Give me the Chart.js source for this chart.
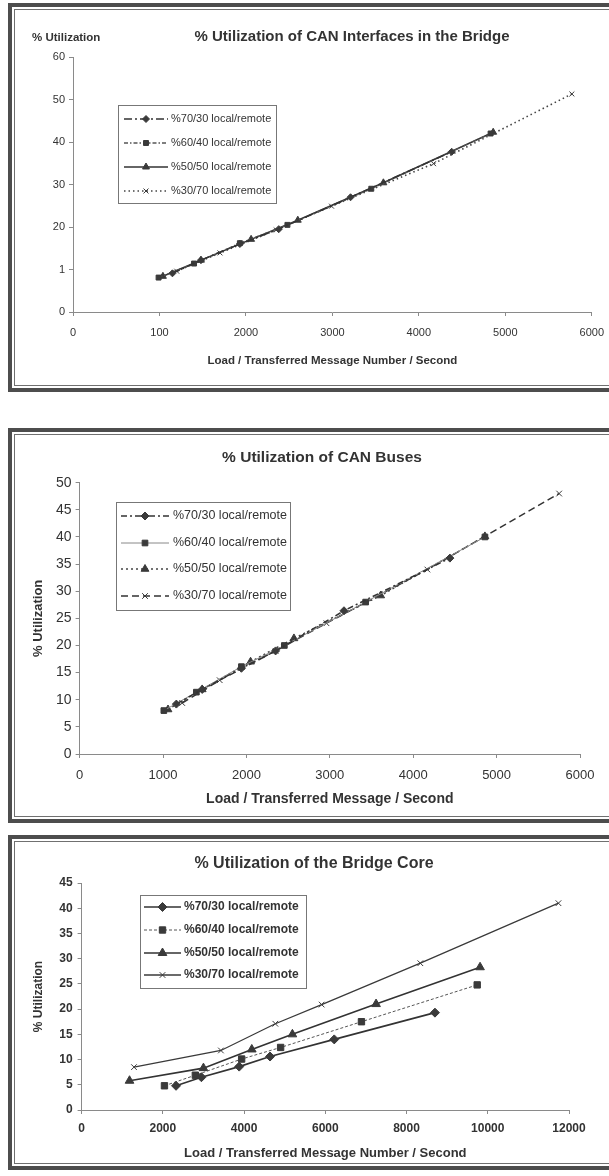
<!DOCTYPE html>
<html>
<head>
<meta charset="utf-8">
<script src="https://cdn.jsdelivr.net/npm/chart.js@4.4.1/dist/chart.umd.min.js"></script>
<style>
 html, body { margin: 0; padding: 0; background: #fff; width: 609px; height: 1176px; overflow: hidden; position: relative; }
 .frame { position: absolute; left: 8px; width: 640px; border: 4px solid #4d4d4d; box-sizing: border-box; }
 .frame::after { content: ''; position: absolute; left: 2px; top: 2px; right: 2px; bottom: 2px; border: 1px solid #707070; }
 canvas { position: absolute; left: 0; }
</style>
</head>
<body>
<div class="frame" style="top:3px;height:389px"></div>
<div class="frame" style="top:428px;height:395px"></div>
<div class="frame" style="top:835px;height:335px"></div>
<canvas id="ifaceChart" width="614" height="392" style="top:0px"></canvas>
<canvas id="busChart" width="609" height="430" style="top:395px"></canvas>
<canvas id="coreChart" width="609" height="335" style="top:835px"></canvas>
<script>
// series labels
const seriesNames = ['%70/30 local/remote', '%60/40 local/remote', '%50/50 local/remote', '%30/70 local/remote'];

// chart 1 - CAN interfaces in the bridge
const ifaceLoad7030 = [1150, 1480, 1930, 2380, 3210, 4380];
const ifaceUtil7030 = [9.1, 12.2, 16.0, 19.5, 27.0, 37.7];
const ifaceLoad6040 = [990, 1400, 1930, 2480, 3450, 4830];
const ifaceUtil6040 = [8.1, 11.4, 16.2, 20.5, 29.0, 42.0];
const ifaceLoad5050 = [1040, 1480, 2060, 2600, 3590, 4860];
const ifaceUtil5050 = [8.4, 12.2, 17.1, 21.6, 30.4, 42.3];
const ifaceLoad3070 = [1200, 1700, 2350, 2990, 4170, 5770];
const ifaceUtil3070 = [9.6, 13.9, 19.3, 24.9, 34.9, 51.3];
const ifaceXTicks = ['0', '100', '2000', '3000', '4000', '5000', '6000'];
const ifaceYTicks = ['0', '1', '20', '30', '40', '50', '60'];

// chart 2 - CAN buses
const busLoad7030 = [1160, 1470, 1940, 2350, 3170, 4440];
const busUtil7030 = [9.2, 11.9, 15.8, 19.0, 26.4, 36.1];
const busLoad6040 = [1010, 1400, 1940, 2455, 3430, 4860];
const busUtil6040 = [8.0, 11.4, 16.1, 20.0, 28.0, 40.0];
const busLoad5050 = [1060, 1470, 2050, 2570, 3610, 4860];
const busUtil5050 = [8.2, 11.9, 17.0, 21.3, 29.2, 40.1];
const busLoad3070 = [1230, 1680, 2350, 2960, 4170, 5750];
const busUtil3070 = [9.4, 13.6, 19.0, 24.1, 34.0, 48.0];

// chart 3 - bridge core
const coreLoad7030 = [2325, 2950, 3880, 4640, 6220, 8700];
const coreUtil7030 = [4.8, 6.5, 8.6, 10.6, 14.0, 19.3];
const coreLoad6040 = [2040, 2800, 3940, 4900, 6890, 9740];
const coreUtil6040 = [4.8, 6.9, 10.1, 12.4, 17.5, 24.8];
const coreLoad5050 = [1180, 3000, 4190, 5190, 7250, 9810];
const coreUtil5050 = [5.8, 8.3, 12.0, 15.0, 21.0, 28.3];
const coreLoad3070 = [1290, 3430, 4770, 5910, 8340, 11740];
const coreUtil3070 = [8.5, 11.8, 17.1, 20.9, 29.1, 41.0];

const FONT = "'Liberation Sans', Arial, sans-serif";
Chart.defaults.font.family = FONT;
Chart.defaults.color = '#333';

function pairs(xs, ys) {
 return xs.map((x, i) => ({ x: x, y: ys[i] }));
}

// legend box drawn inside the plot, plus the titles
const boxLegend = {
 id: 'boxLegend',
 afterDraw(chart, args, opts) {
  const ctx = chart.ctx;
  ctx.save();
  ctx.strokeStyle = '#777';
  ctx.lineWidth = 1;
  ctx.strokeRect(opts.x + 0.5, opts.y + 0.5, opts.w, opts.h);
  chart.data.datasets.forEach((ds, i) => {
   const y = opts.rows[i];
   ctx.beginPath();
   ctx.setLineDash(ds.borderDash || []);
   ctx.lineWidth = ds.borderWidth;
   ctx.strokeStyle = ds.borderColor;
   ctx.moveTo(opts.x0, y);
   ctx.lineTo(opts.x1, y);
   ctx.stroke();
   ctx.setLineDash([]);
   ctx.fillStyle = ds.pointBackgroundColor;
   ctx.strokeStyle = ds.pointBorderColor;
   ctx.lineWidth = ds.pointBorderWidth;
   Chart.helpers.drawPoint(ctx, { pointStyle: ds.pointStyle, radius: ds.pointRadius, rotation: 0, borderWidth: ds.pointBorderWidth }, (opts.x0 + opts.x1) / 2, y);
   ctx.fillStyle = '#333';
   ctx.font = opts.font;
   ctx.textBaseline = 'middle';
   ctx.textAlign = 'left';
   ctx.fillText(ds.label, opts.textX, y);
  });
  (opts.notes || []).forEach(n => {
   ctx.font = n.font;
   ctx.fillStyle = '#333';
   ctx.textBaseline = 'middle';
   ctx.textAlign = n.align || 'left';
   ctx.fillText(n.text, n.x, n.y);
  });
  ctx.restore();
 }
};

function lineSet(label, xs, ys, style, dash, width, color, radius) {
 return {
  label: label,
  data: pairs(xs, ys),
  borderColor: color,
  borderWidth: width,
  borderDash: dash,
  pointStyle: style,
  pointRadius: radius,
  pointHoverRadius: radius,
  pointBackgroundColor: '#3a3a3a',
  pointBorderColor: '#3a3a3a',
  pointBorderWidth: 1,
  tension: 0,
  fill: false
 };
}

function xAxis(max, step, size, height, pad, titleText, titleFont, titlePadBottom, labels) {
 return {
  type: 'linear', min: 0, max: max,
  border: { display: true, color: '#8a8a8a', width: 1 },
  grid: { drawOnChartArea: false, drawTicks: true, tickLength: 4, color: '#8a8a8a' },
  ticks: {
   stepSize: step, padding: pad, maxRotation: 0, autoSkip: false,
   font: size,
   callback: (v, i) => labels ? labels[i] : v
  },
  title: { display: true, text: titleText, font: titleFont, padding: { top: 0, bottom: titlePadBottom } },
  afterFit: s => { s.height = height; }
 };
}

function yAxis(max, step, size, width, pad, title, labels) {
 return {
  min: 0, max: max,
  border: { display: true, color: '#8a8a8a', width: 1 },
  grid: { drawOnChartArea: false, drawTicks: true, tickLength: 4, color: '#8a8a8a' },
  ticks: {
   stepSize: step, padding: pad, autoSkip: false,
   font: size,
   callback: (v, i) => labels ? labels[i] : v
  },
  title: title || { display: false },
  afterFit: s => { s.width = width; }
 };
}

// chart 1
new Chart(document.getElementById('ifaceChart').getContext('2d'), {
 type: 'line',
 data: {
  datasets: [
   lineSet(seriesNames[0], ifaceLoad7030, ifaceUtil7030, 'rectRot', [8, 3, 2, 3], 1.5, '#333', 3.5),
   lineSet(seriesNames[1], ifaceLoad6040, ifaceUtil6040, 'rect', [4, 2, 1.5, 2], 1.3, '#555', 3.5),
   lineSet(seriesNames[2], ifaceLoad5050, ifaceUtil5050, 'triangle', [], 1.5, '#333', 4),
   lineSet(seriesNames[3], ifaceLoad3070, ifaceUtil3070, 'crossRot', [1.5, 3], 1.6, '#444', 3.5)
  ]
 },
 options: {
  responsive: false,
  animation: false,
  layout: { padding: { left: 0, right: 18, top: 57, bottom: 0 } },
  plugins: {
   legend: { display: false },
   tooltip: { enabled: false },
   boxLegend: {
    x: 118, y: 105, w: 158, h: 98,
    rows: [119, 143, 167, 191],
    x0: 124, x1: 168, textX: 171,
    font: '11px ' + FONT,
    notes: [
     { text: '% Utilization of CAN Interfaces in the Bridge', x: 352, y: 37, align: 'center', font: 'bold 15px ' + FONT },
     { text: '% Utilization', x: 32, y: 38, font: 'bold 11.5px ' + FONT }
    ]
   }
  },
  scales: {
   x: xAxis(6000, 1000, { size: 11 }, 80, 10, 'Load / Transferred Message Number / Second', { size: 11.5, weight: 'bold' }, 24.1, ifaceXTicks),
   y: yAxis(60, 10, { size: 11 }, 73, 4, null, ifaceYTicks)
  }
 },
 plugins: [boxLegend]
});

// chart 2
new Chart(document.getElementById('busChart').getContext('2d'), {
 type: 'line',
 data: {
  datasets: [
   lineSet(seriesNames[0], busLoad7030, busUtil7030, 'rectRot', [6, 3, 2, 3], 1.5, '#333', 4),
   lineSet(seriesNames[1], busLoad6040, busUtil6040, 'rect', [], 1, '#888', 4),
   lineSet(seriesNames[2], busLoad5050, busUtil5050, 'triangle', [2, 3], 1.5, '#444', 4.5),
   lineSet(seriesNames[3], busLoad3070, busUtil3070, 'crossRot', [7, 4], 1.5, '#333', 4)
  ]
 },
 options: {
  responsive: false,
  animation: false,
  layout: { padding: { left: 0, right: 29, top: 87.7, bottom: 0 } },
  plugins: {
   legend: { display: false },
   tooltip: { enabled: false },
   boxLegend: {
    x: 116, y: 107, w: 174, h: 108,
    rows: [121, 148, 174, 201],
    x0: 121, x1: 169, textX: 173,
    font: '12.5px ' + FONT,
    notes: [
     { text: '% Utilization of CAN Buses', x: 322, y: 63, align: 'center', font: 'bold 15.5px ' + FONT }
    ]
   }
  },
  scales: {
   x: xAxis(6000, 1000, { size: 13 }, 71, 10, 'Load / Transferred Message / Second', { size: 14, weight: 'bold' }, 17.6),
   y: yAxis(50, 5, { size: 14 }, 79.6, 4, {
    display: true, text: '% Utilization', font: { size: 13, weight: 'bold' }, padding: { top: 31, bottom: 0 }
   })
  }
 },
 plugins: [boxLegend]
});

// chart 3
new Chart(document.getElementById('coreChart').getContext('2d'), {
 type: 'line',
 data: {
  datasets: [
   lineSet(seriesNames[0], coreLoad7030, coreUtil7030, 'rectRot', [], 1.6, '#333', 4.5),
   lineSet(seriesNames[1], coreLoad6040, coreUtil6040, 'rect', [3, 2], 1, '#555', 4.5),
   lineSet(seriesNames[2], coreLoad5050, coreUtil5050, 'triangle', [], 1.6, '#333', 5),
   lineSet(seriesNames[3], coreLoad3070, coreUtil3070, 'crossRot', [], 1.3, '#3a3a3a', 4)
  ]
 },
 options: {
  responsive: false,
  animation: false,
  layout: { padding: { left: 0, right: 40, top: 48, bottom: 0 } },
  plugins: {
   legend: { display: false },
   tooltip: { enabled: false },
   boxLegend: {
    x: 140, y: 60, w: 166, h: 93,
    rows: [72, 95, 118, 140],
    x0: 144, x1: 181, textX: 184,
    font: 'bold 12px ' + FONT,
    notes: [
     { text: '% Utilization of the Bridge Core', x: 314, y: 29, align: 'center', font: 'bold 16px ' + FONT }
    ]
   }
  },
  scales: {
   x: xAxis(12000, 2000, { size: 12, weight: 'bold' }, 60, 7, 'Load / Transferred Message Number / Second', { size: 13, weight: 'bold' }, 9.2),
   y: yAxis(45, 5, { size: 12, weight: 'bold' }, 81.6, 5, {
    display: true, text: '% Utilization', font: { size: 12, weight: 'bold' }, padding: { top: 31.8, bottom: 0 }
   })
  }
 },
 plugins: [boxLegend]
});
</script>
</body>
</html>
